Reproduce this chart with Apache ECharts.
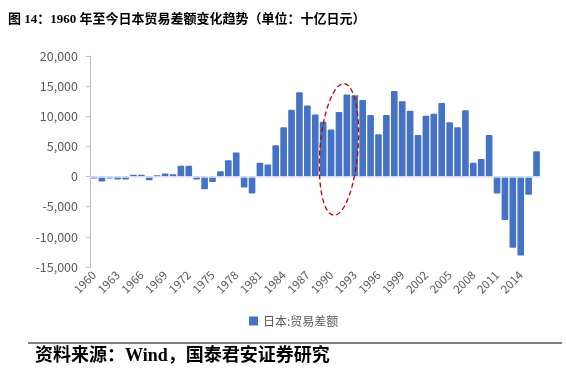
<!DOCTYPE html>
<html>
<head>
<meta charset="utf-8">
<script src="https://cdn.jsdelivr.net/npm/echarts@6/dist/echarts.min.js"></script>
<style>
html,body{margin:0;padding:0;background:#fff;}
#c{width:566px;height:375px;}
</style>
</head>
<body>
<div id="c"></div>
<script>
var years = [];
for (var y = 1960; y <= 2016; y++) years.push(String(y));

// 日本:贸易差额（十亿日元）
var tradeBalance = [
  -300, -800, -300, -500, -500, 300, 300, -600, 200, 500,
  400, 1800, 1800, -500, -2100, -900, 900, 2700, 4000, -1800,
  -2800, 2300, 2000, 5200, 8200, 11100, 14000, 11800, 10300, 9100,
  7800, 10700, 13600, 13500, 12700, 10200, 7000, 10200, 14200, 12500,
  10900, 6900, 10100, 10400, 12200, 9000, 8200, 11000, 2300, 2900,
  6900, -2800, -7200, -11800, -13100, -3000, 4200
];

var yTicks = { min: -15000, max: 20000, interval: 5000 };
var seriesName = '日本:贸易差额';
var titleText = '图 14：1960 年至今日本贸易差额变化趋势（单位：十亿日元）';
var sourceText = '资料来源：Wind，国泰君安证券研究';

var chart = echarts.init(document.getElementById('c'), null, {renderer: 'canvas'});
var serif = '"Liberation Serif","Noto Sans CJK SC",serif';
var sans = '"Noto Sans CJK SC","Liberation Sans",sans-serif';

chart.setOption({
  animation: false,
  backgroundColor: '#ffffff',
  grid: { left: 90, right: 25.5, top: 56, bottom: 108, containLabel: false },
  legend: {
    data: [seriesName],
    left: 244, top: 310,
    itemWidth: 9, itemHeight: 9, itemGap: 4,
    icon: 'rect',
    textStyle: { color: '#595959', fontSize: 12, fontFamily: sans }
  },
  xAxis: {
    type: 'category',
    data: years,
    axisLine: { show: false, onZero: false },
    axisTick: { show: false },
    axisLabel: {
      interval: 2, rotate: 45, color: '#595959', fontSize: 11.5,
      fontFamily: sans, margin: 6
    }
  },
  yAxis: {
    type: 'value',
    min: yTicks.min, max: yTicks.max, interval: yTicks.interval,
    splitLine: { show: false },
    axisLine: { show: true, lineStyle: { color: '#bfbfbf' } },
    axisTick: { show: true, length: 4, lineStyle: { color: '#bfbfbf' } },
    axisLabel: {
      color: '#595959', fontSize: 12.5, fontFamily: sans, margin: 12,
      formatter: function (v) { return v.toLocaleString('en-US'); }
    }
  },
  series: [{
    name: seriesName,
    type: 'bar',
    data: tradeBalance,
    barWidth: '84%',
    itemStyle: { color: '#4472c4', borderRadius: 1 },
    markLine: {
      silent: true, symbol: 'none', label: { show: false },
      lineStyle: { color: '#dbe4f3', width: 1.5, type: 'solid' },
      data: [{ yAxis: 0 }]
    }
  }]
});

// annotation ellipse around early 1990s, positioned from data coordinates
var c = chart.convertToPixel({ gridIndex: 0 }, ['1991', 4500]);
chart.setOption({
  graphic: [
    { type: 'text', left: 8, top: 13,
      style: { text: titleText, fill: '#000', font: 'bold 13px ' + serif } },
    { type: 'line', shape: { x1: 28, y1: 343, x2: 562, y2: 343 },
      style: { stroke: '#000', lineWidth: 1 } },
    { type: 'text', left: 35, top: 347,
      style: { text: sourceText, fill: '#000', font: 'bold 18px ' + serif } },
    { type: 'ellipse', shape: { cx: c[0], cy: c[1], rx: 19, ry: 66 },
      rotation: -0.08, originX: c[0], originY: c[1],
      style: { fill: 'none', stroke: '#c00000', lineWidth: 1.3, lineDash: [5, 3] }, z: 100 }
  ]
});
</script>
</body>
</html>
